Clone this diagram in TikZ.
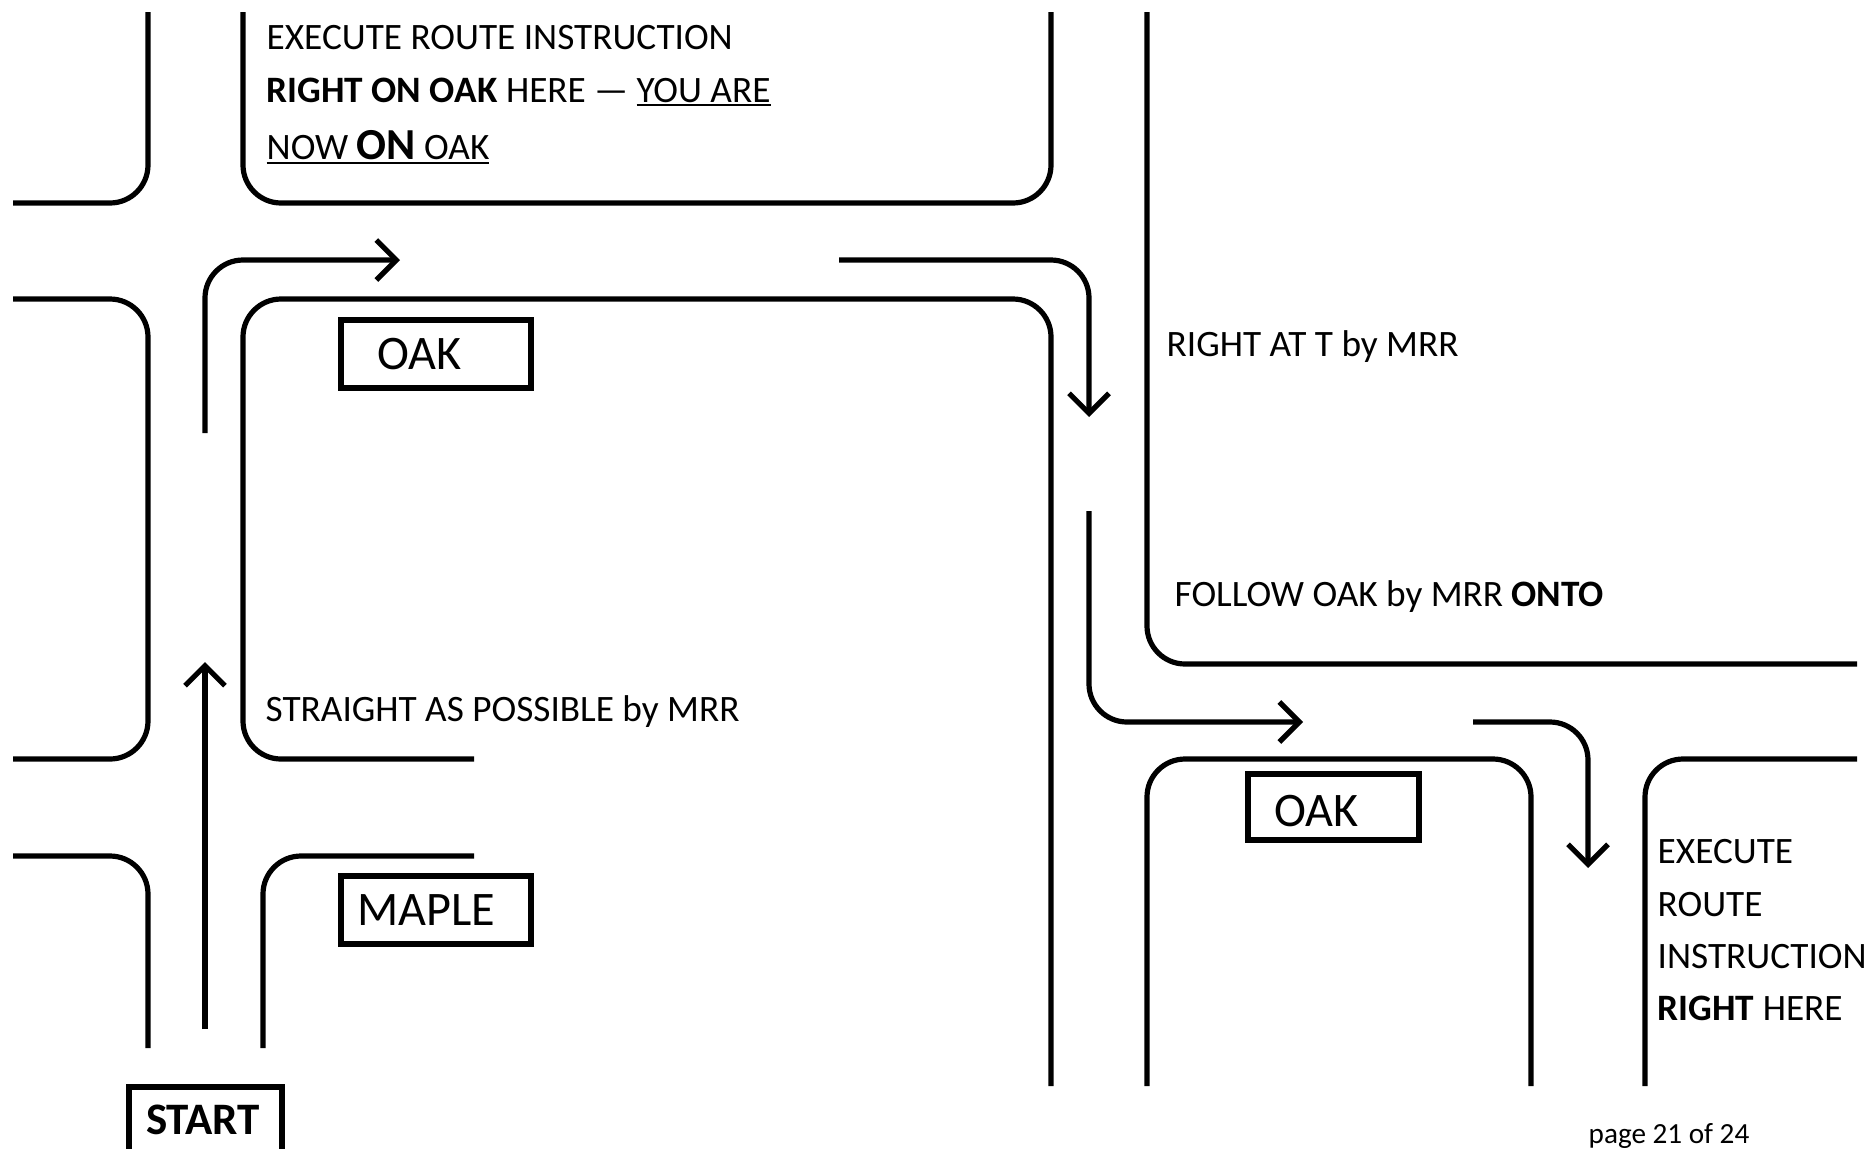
\documentclass[tikz,border=0pt]{standalone}
\usepackage{fontspec}
\setmainfont{Carlito}
\usetikzlibrary{arrows.meta}
\newcommand{\undl}[2][1.2pt]{\leavevmode\setbox0=\hbox{#2}\rlap{\rule[-#1]{\wd0}{0.7pt}}\box0}
\newcommand{\bigword}[1]{{\fontsize{12.6}{14}\selectfont\bfseries #1}}

\begin{document}
\begin{tikzpicture}[
    x=0.01cm, y=-0.01cm,
    road/.style={line width=0.052cm, rounded corners=0.38cm},
    route/.style={line width=0.052cm, rounded corners=0.38cm, -{Straight Barb[length=0.2cm, width=0.4cm]}},
    note/.style={anchor=base west, inner sep=0pt, font=\fontsize{10.6}{12}\selectfont},
    signbox/.style 2 args={draw, line width=0.06cm, anchor=north west, outer sep=0pt, inner ysep=0pt, align=left,
        font=\fontsize{13.7}{15}\selectfont, inner xsep=#1cm, text width=#2cm-2*#1cm}
]
\useasboundingbox (0,0) rectangle (1869,1148);

% Roads, left part
\draw[road] (13,203) -- (148,203) -- (148,12);
\draw[road] (243,12) -- (243,203) -- (1051,203) -- (1051,12);
\draw[road] (13,299) -- (148,299) -- (148,759) -- (13,759);
\draw[road] (474,759) -- (243,759) -- (243,299) -- (1051,299) -- (1051,1086);
\draw[road] (13,856) -- (148,856) -- (148,1048);
\draw[road] (474,856) -- (263,856) -- (263,1048);
% Roads, right part
\draw[road] (1147,12) -- (1147,664) -- (1857,664);
\draw[road] (1147,1086) -- (1147,759) -- (1531,759) -- (1531,1086);
\draw[road] (1857,759) -- (1645,759) -- (1645,1086);

% Route
\draw[route] (205,1029) -- (205,662);
\draw[route] (205,433) -- (205,260) -- (400,260);
\draw[route] (839,260) -- (1089,260) -- (1089,417);
\draw[route] (1089,511) -- (1089,722) -- (1303,722);
\draw[route] (1473,722) -- (1588,722) -- (1588,868);

% Street signs
\node[signbox={0.36}{1.9}, minimum height=0.68cm] (oakleft) at (341,320) {OAK};
\node[signbox={0.16}{1.9}, minimum height=0.68cm] (maple) at (341,876) {MAPLE};
\node[signbox={0.26}{1.71}, minimum height=0.66cm, text height=10.8pt, text depth=0pt] (oakright) at (1248,774) {OAK};
\node[signbox={0.17}{1.53}, minimum height=0.66cm, font=\fontsize{12.8}{15}\selectfont\bfseries] (start) at (129,1087) {START};

% Notes
\node[note] (execa) at (266,49) {EXECUTE ROUTE INSTRUCTION};
\node[note] (execb) at (266,102) {\textbf{RIGHT ON OAK} HERE --- \undl{YOU ARE}};
\node[note] (execc) at (266,159) {\undl[1.5pt]{NOW \bigword{ON} OAK}};
\node[note] (straight) at (265,721) {STRAIGHT AS POSSIBLE by MRR};
\node[note] (rightatt) at (1166,356) {RIGHT AT T by MRR};
\node[note] (follow) at (1174,606) {FOLLOW OAK by MRR \textbf{ONTO}};
\node[note] (execd) at (1657,863) {EXECUTE};
\node[note] (exece) at (1657,916) {ROUTE};
\node[note] (execf) at (1657,968) {INSTRUCTION};
\node[note] (execg) at (1657,1020) {\textbf{RIGHT} HERE};
\node[note, font=\fontsize{8.3}{10}\selectfont] (page) at (1588,1143) {page 21 of 24};
\end{tikzpicture}
\end{document}
